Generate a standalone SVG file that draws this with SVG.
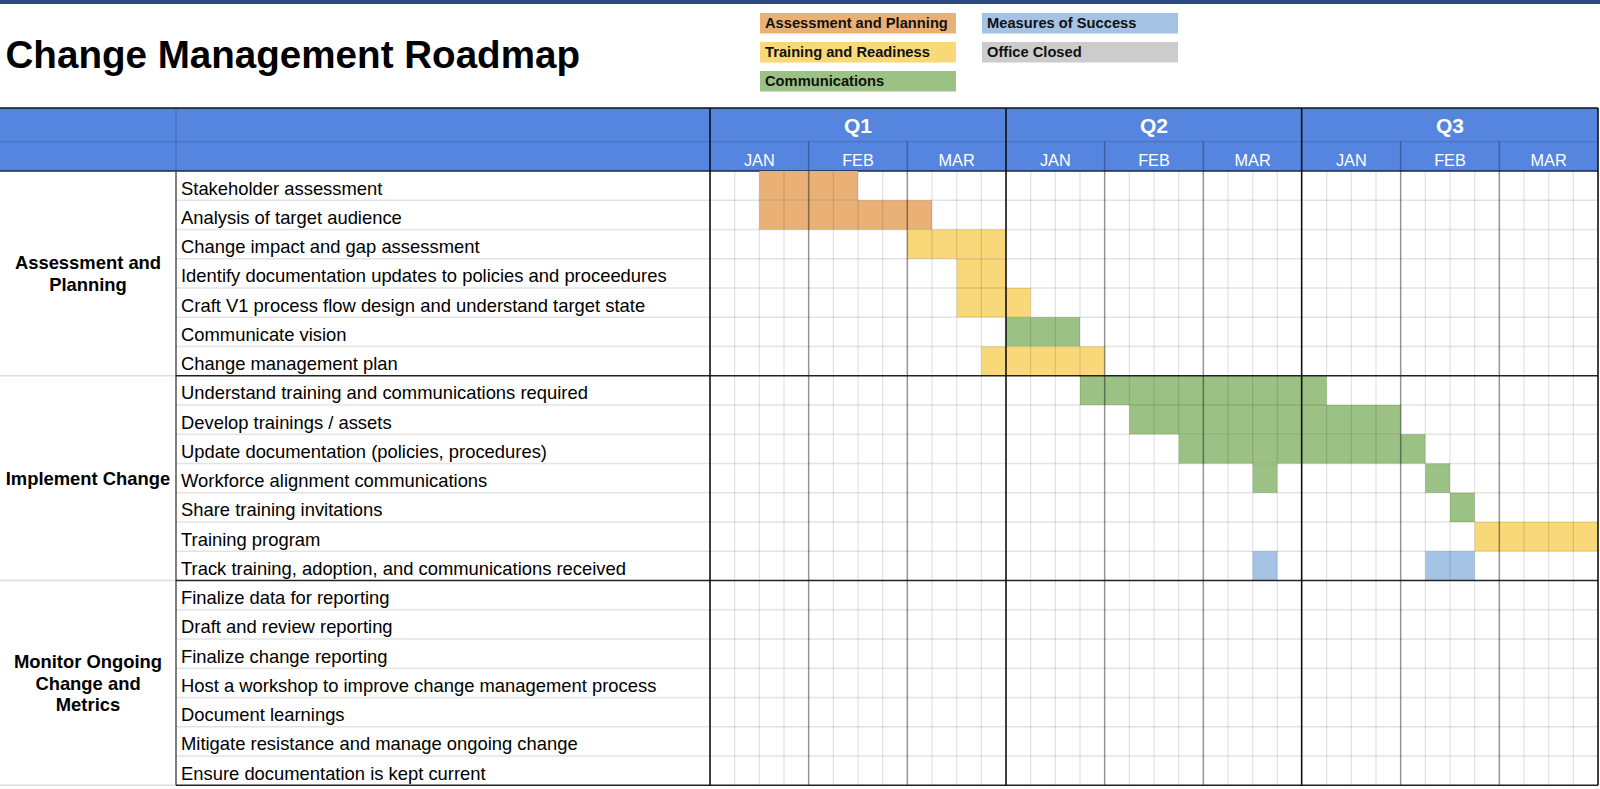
<svg xmlns="http://www.w3.org/2000/svg" width="1600" height="789" viewBox="0 0 1600 789">
<style>
  .t{font-family:"Liberation Sans",Arial,sans-serif;font-size:18.4px;fill:#000}
  .cat{font-family:"Liberation Sans",Arial,sans-serif;font-size:18.4px;font-weight:bold;fill:#000;text-anchor:middle}
  .lg{font-family:"Liberation Sans",Arial,sans-serif;font-size:14.7px;font-weight:bold;fill:#111}
  .q{font-family:"Liberation Sans",Arial,sans-serif;font-size:21px;font-weight:bold;fill:#fff;text-anchor:middle}
  .m{font-family:"Liberation Sans",Arial,sans-serif;font-size:16.3px;fill:#fff;text-anchor:middle}
  .title{font-family:"Liberation Sans",Arial,sans-serif;font-size:38.6px;font-weight:bold;fill:#000}
  .or{fill:#E9B175}
  .ye{fill:#F8D878}
  .gr{fill:#9CC184}
  .bl{fill:#A5C3E5}
  .gy{fill:#CCCCCC}
  .wk{stroke:#000;stroke-opacity:0.11;stroke-width:1.3;fill:none}
  .mo{stroke:#000;stroke-opacity:0.42;stroke-width:1.5;fill:none}
  .qt{stroke:#111;stroke-width:1.6;fill:none}
  .sec{stroke:#222;stroke-width:1.6;fill:none}
</style>
<rect x="0" y="0" width="1600" height="789" fill="#fff"/>
<rect x="0" y="0" width="1600" height="4" fill="#2B4A85"/>

<g id="title"><text class="title" x="5.5" y="68">Change Management Roadmap</text></g>

<g id="legend">
  <g id="legend-assessment"><rect class="or" x="760" y="13" width="196" height="20.5"/><text class="lg" x="765" y="28.4">Assessment and Planning</text></g>
  <g id="legend-training"><rect class="ye" x="760" y="42" width="196" height="20.5"/><text class="lg" x="765" y="57.4">Training and Readiness</text></g>
  <g id="legend-comms"><rect class="gr" x="760" y="71" width="196" height="20.5"/><text class="lg" x="765" y="86.4">Communications</text></g>
  <g id="legend-measures"><rect class="bl" x="982" y="13" width="196" height="20.5"/><text class="lg" x="987" y="28.4">Measures of Success</text></g>
  <g id="legend-office"><rect class="gy" x="982" y="42" width="196" height="20.5"/><text class="lg" x="987" y="57.4">Office Closed</text></g>
</g>

<g id="header">
  <rect x="0" y="108" width="1598" height="63" fill="#5585DE"/>
  <path d="M0 141.7 H1598" stroke="#000" stroke-opacity="0.13" stroke-width="1.3"/>
  <path d="M176 108 V171" stroke="#000" stroke-opacity="0.15" stroke-width="1.3"/>
  <path d="M808.67 141.7 V171 M907.33 141.7 V171 M1104.67 141.7 V171 M1203.33 141.7 V171 M1400.67 141.7 V171 M1499.33 141.7 V171" stroke="#000" stroke-opacity="0.28" stroke-width="1.5"/>
  <text class="q" x="858" y="133">Q1</text>
  <text class="q" x="1154" y="133">Q2</text>
  <text class="q" x="1450" y="133">Q3</text>
  <text class="m" x="759.33" y="165.5">JAN</text>
  <text class="m" x="858" y="165.5">FEB</text>
  <text class="m" x="956.67" y="165.5">MAR</text>
  <text class="m" x="1055.33" y="165.5">JAN</text>
  <text class="m" x="1154" y="165.5">FEB</text>
  <text class="m" x="1252.67" y="165.5">MAR</text>
  <text class="m" x="1351.33" y="165.5">JAN</text>
  <text class="m" x="1450" y="165.5">FEB</text>
  <text class="m" x="1548.67" y="165.5">MAR</text>
  <path d="M0 108 H1598" stroke="#111" stroke-width="1.6"/>
  <path d="M0 171 H1598" stroke="#1f2a3d" stroke-width="1.6"/>
</g>

<g id="bars">
  <rect class="or" x="759.33" y="171" width="98.67" height="29.25"/>
  <rect class="or" x="759.33" y="200.25" width="172.67" height="29.25"/>
  <rect class="ye" x="907.33" y="229.5" width="98.67" height="29.25"/>
  <rect class="ye" x="956.67" y="258.75" width="49.33" height="29.25"/>
  <rect class="ye" x="956.67" y="288" width="74" height="29.25"/>
  <rect class="gr" x="1006" y="317.25" width="74" height="29.25"/>
  <rect class="ye" x="981.33" y="346.5" width="123.33" height="29.25"/>
  <rect class="gr" x="1080" y="375.75" width="246.67" height="29.25"/>
  <rect class="gr" x="1129.33" y="405" width="271.33" height="29.25"/>
  <rect class="gr" x="1178.67" y="434.25" width="246.67" height="29.25"/>
  <rect class="gr" x="1252.67" y="463.5" width="24.67" height="29.25"/>
  <rect class="gr" x="1425.33" y="463.5" width="24.67" height="29.25"/>
  <rect class="gr" x="1450" y="492.75" width="24.67" height="29.25"/>
  <rect class="ye" x="1474.67" y="522" width="123.33" height="29.25"/>
  <rect class="bl" x="1252.67" y="551.25" width="24.67" height="29.25"/>
  <rect class="bl" x="1425.33" y="551.25" width="49.33" height="29.25"/>
</g>

<g id="connectors">
  <path class="wk" d="M176 200.25 H1598 M176 229.5 H1598 M176 258.75 H1598 M176 288 H1598 M176 317.25 H1598 M176 346.5 H1598 M176 405 H1598 M176 434.25 H1598 M176 463.5 H1598 M176 492.75 H1598 M176 522 H1598 M176 551.25 H1598 M176 609.75 H1598 M176 639 H1598 M176 668.25 H1598 M176 697.5 H1598 M176 726.75 H1598 M176 756 H1598"/>
  <path class="wk" d="M734.67 171 V785.25 M759.33 171 V785.25 M784 171 V785.25 M833.33 171 V785.25 M858 171 V785.25 M882.67 171 V785.25 M932 171 V785.25 M956.67 171 V785.25 M981.33 171 V785.25 M1030.67 171 V785.25 M1055.33 171 V785.25 M1080 171 V785.25 M1129.33 171 V785.25 M1154 171 V785.25 M1178.67 171 V785.25 M1228 171 V785.25 M1252.67 171 V785.25 M1277.33 171 V785.25 M1326.67 171 V785.25 M1351.33 171 V785.25 M1376 171 V785.25 M1425.33 171 V785.25 M1450 171 V785.25 M1474.67 171 V785.25 M1524 171 V785.25 M1548.67 171 V785.25 M1573.33 171 V785.25"/>
  <path class="mo" d="M808.67 171 V785.25 M907.33 171 V785.25 M1104.67 171 V785.25 M1203.33 171 V785.25 M1400.67 171 V785.25 M1499.33 171 V785.25"/>
  <path d="M0 375.75 H176 M0 580.5 H176 M0 785.25 H176" stroke="#000" stroke-opacity="0.13" stroke-width="1.5"/>
  <path d="M176 171 V785.25" stroke="#555" stroke-width="1.5"/>
  <path class="sec" d="M176 375.75 H1598 M176 580.5 H1598 M176 785.25 H1598"/>
  <path class="qt" d="M710 108 V785.25 M1006 108 V785.25 M1301.67 108 V785.25 M1598 108 V785.25"/>
</g>

<g id="cat-assessment">
  <text class="cat" x="88" y="269.2">Assessment and</text>
  <text class="cat" x="88" y="290.8">Planning</text>
</g>
<g id="cat-implement">
  <text class="cat" x="88" y="484.7">Implement Change</text>
</g>
<g id="cat-monitor">
  <text class="cat" x="88" y="667.8">Monitor Ongoing</text>
  <text class="cat" x="88" y="689.5">Change and</text>
  <text class="cat" x="88" y="711.4">Metrics</text>
</g>

<g id="tasks">
  <g id="task-1"><text class="t" x="181" y="194.6">Stakeholder assessment</text></g>
  <g id="task-2"><text class="t" x="181" y="223.85">Analysis of target audience</text></g>
  <g id="task-3"><text class="t" x="181" y="253.1">Change impact and gap assessment</text></g>
  <g id="task-4"><text class="t" x="181" y="282.35">Identify documentation updates to policies and proceedures</text></g>
  <g id="task-5"><text class="t" x="181" y="311.6">Craft V1 process flow design and understand target state</text></g>
  <g id="task-6"><text class="t" x="181" y="340.85">Communicate vision</text></g>
  <g id="task-7"><text class="t" x="181" y="370.1">Change management plan</text></g>
  <g id="task-8"><text class="t" x="181" y="399.35">Understand training and communications required</text></g>
  <g id="task-9"><text class="t" x="181" y="428.6">Develop trainings / assets</text></g>
  <g id="task-10"><text class="t" x="181" y="457.85">Update documentation (policies, procedures)</text></g>
  <g id="task-11"><text class="t" x="181" y="487.1">Workforce alignment communications</text></g>
  <g id="task-12"><text class="t" x="181" y="516.35">Share training invitations</text></g>
  <g id="task-13"><text class="t" x="181" y="545.6">Training program</text></g>
  <g id="task-14"><text class="t" x="181" y="574.85">Track training, adoption, and communications received</text></g>
  <g id="task-15"><text class="t" x="181" y="604.1">Finalize data for reporting</text></g>
  <g id="task-16"><text class="t" x="181" y="633.35">Draft and review reporting</text></g>
  <g id="task-17"><text class="t" x="181" y="662.6">Finalize change reporting</text></g>
  <g id="task-18"><text class="t" x="181" y="691.85">Host a workshop to improve change management process</text></g>
  <g id="task-19"><text class="t" x="181" y="721.1">Document learnings</text></g>
  <g id="task-20"><text class="t" x="181" y="750.35">Mitigate resistance and manage ongoing change</text></g>
  <g id="task-21"><text class="t" x="181" y="779.6">Ensure documentation is kept current</text></g>
</g>
</svg>
